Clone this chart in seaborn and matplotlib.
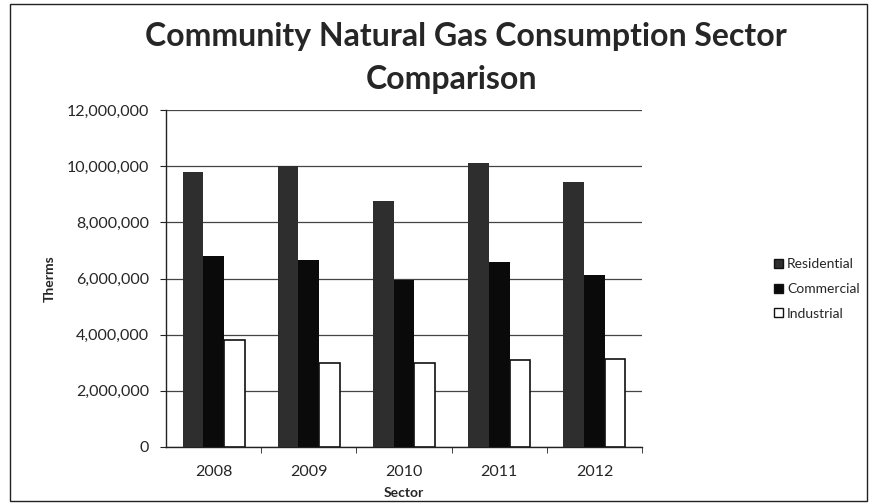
import pandas as pd
import seaborn as sns
import matplotlib.pyplot as plt
from matplotlib.patches import Rectangle
from matplotlib.ticker import FuncFormatter, FixedLocator

# Values (therms)
years = ["2008", "2009", "2010", "2011", "2012"]
sectors = ["Residential", "Commercial", "Industrial"]
residential = [9790000, 10000000, 8770000, 10120000, 9420000]
commercial = [6800000, 6660000, 5940000, 6600000, 6110000]
industrial = [3810000, 3000000, 2990000, 3100000, 3140000]

df = pd.DataFrame({
    "year": years * 3,
    "sector": [s for s in sectors for _ in years],
    "therms": residential + commercial + industrial,
})

sns.set_style("white")
plt.rcParams['font.family'] = ['Lato', 'DejaVu Sans']

fig = plt.figure(figsize=(8.7, 5.03), dpi=100)
ax = fig.add_axes([166 / 870, 1 - 447 / 503, 476 / 870, 337 / 503])

colors = ["#2e2e2e", "#0a0a0a", "#ffffff"]
sns.barplot(data=df, x="year", y="therms", hue="sector", palette=colors,
            width=0.65, saturation=1, ax=ax, zorder=3)

# outline the white bars like the original
for container, name in zip(ax.containers, sectors):
    for bar in container:
        bar.set_edgecolor("#111111")
        bar.set_linewidth(1.2 if name == "Industrial" else 0)

ax.set_ylim(0, 12000000)
ax.set_xlim(-0.5, 4.5)
ax.set_yticks(range(0, 12000001, 2000000))
ax.yaxis.set_major_formatter(FuncFormatter(lambda v, p: f"{int(v):,}"))
ax.yaxis.grid(True, color="#444444", linewidth=0.9, zorder=0)
ax.xaxis.set_minor_locator(FixedLocator([0.5, 1.5, 2.5, 3.5, 4.5]))
ax.tick_params(axis="x", which="major", length=0, labelsize=11.5, pad=13)
ax.tick_params(axis="x", which="minor", length=4, color="#222222", bottom=True)
ax.tick_params(axis="y", length=4, color="#222222", labelsize=11.5, left=True, pad=8)

for side in ["top", "right"]:
    ax.spines[side].set_visible(False)
for side in ["left", "bottom"]:
    ax.spines[side].set_color("#222222")
    ax.spines[side].set_linewidth(1.0)

ax.set_xlabel("Sector", fontsize=10, fontweight="bold", labelpad=6)
ax.set_ylabel("Therms", fontsize=10, fontweight="bold", labelpad=8)

fig.text(466 / 870, 1 - 37 / 503, "Community Natural Gas Consumption Sector",
         ha="center", va="center", fontsize=23, fontweight="bold")
fig.text(452 / 870, 1 - 79 / 503, "Comparison",
         ha="center", va="center", fontsize=23, fontweight="bold")

handles, labels = ax.get_legend_handles_labels()
leg = ax.legend(handles, labels, loc="center left", bbox_to_anchor=(762 / 870, 1 - 289 / 503),
                bbox_transform=fig.transFigure, frameon=False, fontsize=10,
                handlelength=0.6, handleheight=0.6, handletextpad=0.3, labelspacing=0.9)
for h in leg.legend_handles:
    h.set_edgecolor("#111111")
    h.set_linewidth(1.0)

# chart frame
fig.patches.append(Rectangle((10 / 870, 0.003), 857 / 870, 0.99, transform=fig.transFigure,
                             fill=False, edgecolor="#222222", linewidth=1.0))

fig.savefig("out.png", dpi=100, facecolor="white")
